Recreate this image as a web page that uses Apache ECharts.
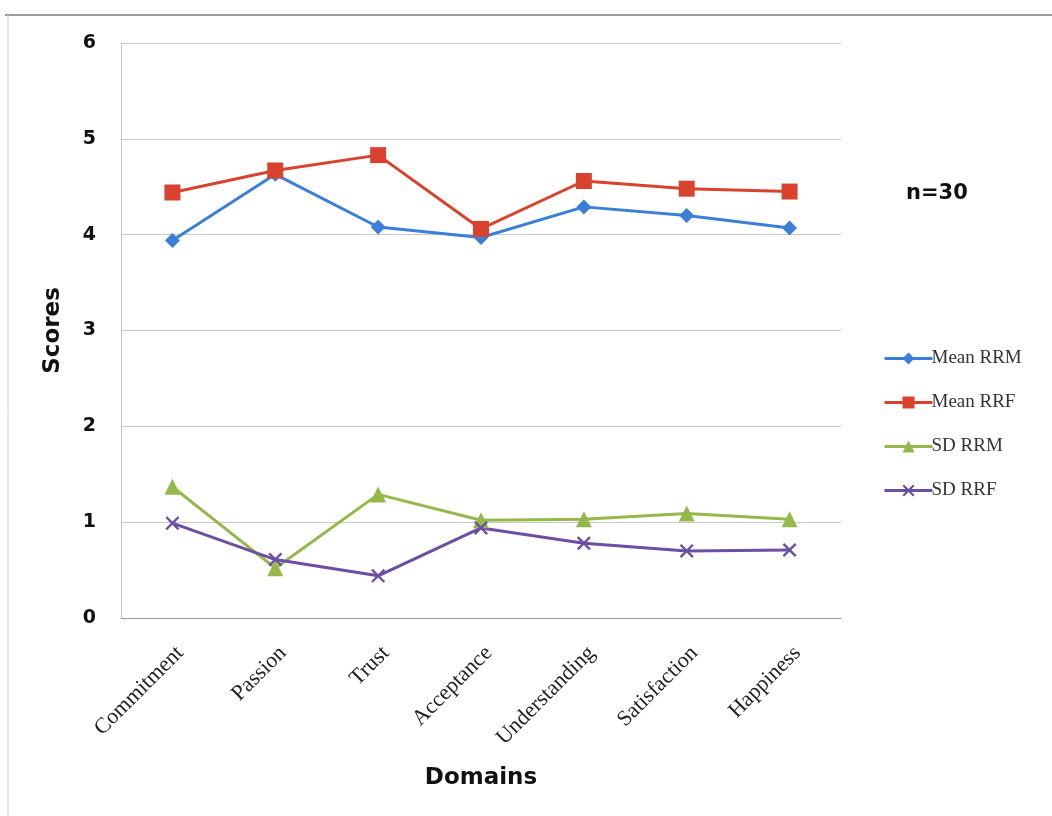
<!DOCTYPE html>
<html>
<head>
<meta charset="utf-8">
<script src="https://cdn.jsdelivr.net/npm/echarts@6/dist/echarts.min.js"></script>
<style>
html,body{margin:0;padding:0;background:#fff;}
#chart{width:1052px;height:816px;}
</style>
</head>
<body>
<div id="chart"></div>
<script>
const categories = ['Commitment','Passion','Trust','Acceptance','Understanding','Satisfaction','Happiness'];
const meanRRM = [3.94, 4.63, 4.08, 3.97, 4.29, 4.20, 4.07];
const meanRRF = [4.44, 4.67, 4.83, 4.06, 4.56, 4.48, 4.45];
const sdRRM   = [1.37, 0.52, 1.29, 1.02, 1.03, 1.09, 1.03];
const sdRRF   = [0.99, 0.61, 0.44, 0.94, 0.78, 0.70, 0.71];
const seriesNames = ['Mean RRM','Mean RRF','SD RRM','SD RRF'];
const yTicks = [0,1,2,3,4,5,6];

const crossPath = 'path://M0,1.2 L1.2,0 L5,3.8 L8.8,0 L10,1.2 L6.2,5 L10,8.8 L8.8,10 L5,6.2 L1.2,10 L0,8.8 L3.8,5 Z';
const boldSans = '"DejaVu Sans", Arial, sans-serif';
const serif = '"Liberation Serif", "Times New Roman", serif';

const chart = echarts.init(document.getElementById('chart'));
function mk(name, data, color, symbol, size){
  return {
    name, type:'line', data, symbol, symbolSize:size,
    lineStyle:{color, width:3}, itemStyle:{color},
    emphasis:{disabled:true}, animation:false
  };
}
chart.setOption({
  animation:false,
  backgroundColor:'#fff',
  graphic:[
    {type:'line', shape:{x1:5,y1:15,x2:1052,y2:15}, style:{stroke:'#9a9a9a', lineWidth:2}},
    {type:'line', shape:{x1:8,y1:15,x2:8,y2:816}, style:{stroke:'#d0d0d0', lineWidth:1}},
    {type:'text', left:906, top:183, style:{text:'n=30', font:'bold 21px "DejaVu Sans", Arial, sans-serif', fill:'#111'}}
  ],
  grid:{left:121, top:43, right:211, bottom:198, containLabel:false},
  legend:{
    orient:'vertical', left:878, top:344, itemGap:25, itemWidth:48, itemHeight:15,
    data:seriesNames,
    lineStyle:{width:3},
    textStyle:{fontFamily:serif, fontSize:19, color:'#333', padding:[0,0,0,-6]}
  },
  xAxis:{
    type:'category', data:categories, boundaryGap:true,
    name:'Domains', nameLocation:'middle', nameGap:149,
    nameTextStyle:{fontFamily:boldSans, fontWeight:'bold', fontSize:23, color:'#111'},
    axisLine:{lineStyle:{color:'#999', width:1}},
    axisTick:{show:false},
    axisLabel:{rotate:45, margin:24, verticalAlign:'top', fontFamily:serif, fontSize:22, color:'#222', interval:0}
  },
  yAxis:{
    type:'value', min:0, max:6, interval:1,
    name:'Scores', nameLocation:'middle', nameGap:56, nameRotate:90,
    nameTextStyle:{fontFamily:boldSans, fontWeight:'bold', fontSize:23, color:'#111'},
    axisLine:{show:true, lineStyle:{color:'#c8c8c8'}},
    axisTick:{show:false},
    splitLine:{lineStyle:{color:'#c8c8c8'}},
    axisLabel:{margin:25, fontFamily:boldSans, fontWeight:'bold', fontSize:19, color:'#111',
      formatter: v => yTicks.includes(v) ? String(v) : ''}
  },
  series:[
    mk('Mean RRM', meanRRM, '#3b7fd9', 'diamond', 15),
    mk('Mean RRF', meanRRF, '#d9432e', 'rect', 16),
    mk('SD RRM', sdRRM, '#96b84a', 'triangle', 16),
    mk('SD RRF', sdRRF, '#6a4fa3', crossPath, 14)
  ]
});
</script>
</body>
</html>
